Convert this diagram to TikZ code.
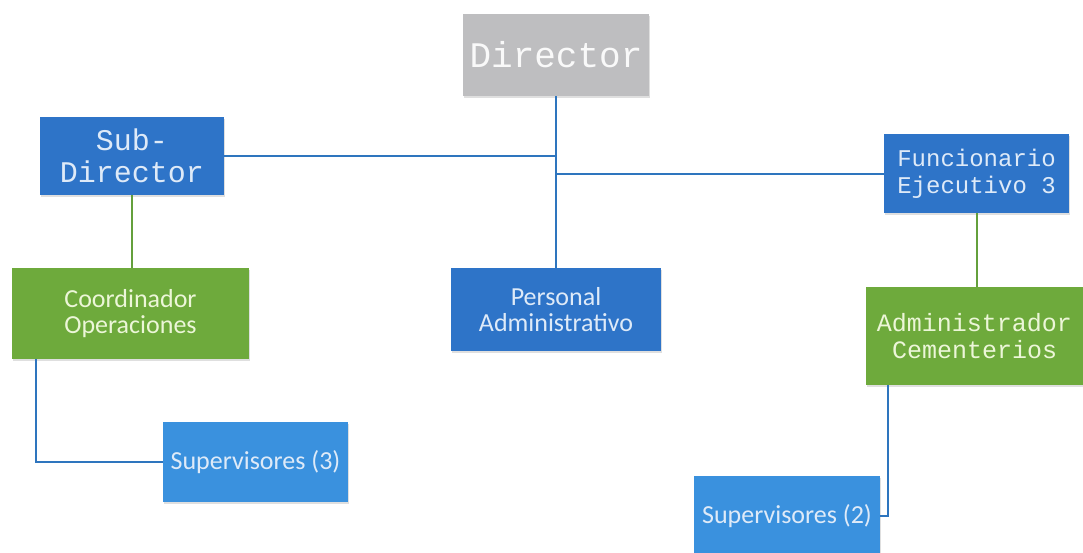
\documentclass[tikz,border=0pt]{standalone}
\usepackage{fontspec}
\setmonofont{Liberation Mono}
\newfontfamily\calib{Carlito}
\usetikzlibrary{positioning, shadows}
\definecolor{dirgray}{RGB}{190,190,192}
\definecolor{boxblue}{RGB}{46,116,200}
\definecolor{lightblue}{RGB}{58,145,222}
\definecolor{boxgreen}{RGB}{110,170,60}
\definecolor{lineblue}{RGB}{46,117,190}
\definecolor{linegreen}{RGB}{100,160,60}
\definecolor{txtblue}{RGB}{222,234,248}
\definecolor{txtgreen}{RGB}{236,246,216}

\tikzset{
    orgbox/.style={draw=none, align=center, inner sep=0pt, anchor=center,
        drop shadow={shadow xshift=1pt, shadow yshift=-2pt, opacity=0.25}},
    monotxt/.style={font=\ttfamily\fontsize{30}{32}\selectfont},
    smallmono/.style={font=\ttfamily\fontsize{24}{27}\selectfont},
    sanstxt/.style={font=\calib\fontsize{26}{26}\selectfont},
    blueline/.style={draw=lineblue, line width=2pt},
    greenline/.style={draw=linegreen, line width=2pt}
}

\begin{document}
\begin{tikzpicture}[x=1pt, y=-1pt]

    % Page frame
    \useasboundingbox (0,0) rectangle (1083,552);

    % Top level
    \node[orgbox, fill=dirgray, text=white!95!gray, minimum width=186pt, minimum height=82pt,
        font=\ttfamily\fontsize{36}{38}\selectfont] (director) at (556,55) {Director};

    % Second level
    \node[orgbox, monotxt, fill=boxblue, text=txtblue, minimum width=184pt, minimum height=78pt]
        (subdir) at (132,156) {Sub-\\Director};
    \node[orgbox, smallmono, fill=boxblue, text=txtblue, minimum width=185pt, minimum height=79pt]
        (funcejec) at (976.5,173.5) {Funcionario\\Ejecutivo 3};

    % Third level
    \node[orgbox, sanstxt, fill=boxgreen, text=txtgreen, minimum width=237pt, minimum height=91pt]
        (coordop) at (130.5,313.5) {Coordinador\\Operaciones};
    \node[orgbox, sanstxt, fill=boxblue, text=txtblue, minimum width=210pt, minimum height=83pt]
        (persadm) at (556,309.5) {Personal\\Administrativo};
    \node[orgbox, smallmono, fill=boxgreen, text=txtgreen, minimum width=217pt, minimum height=98pt,
        font=\ttfamily\fontsize{25}{27}\selectfont] (admcem) at (974.5,336) {Administrador\\Cementerios};

    % Supervisors
    \node[orgbox, sanstxt, fill=lightblue, text=txtblue, minimum width=185pt, minimum height=80pt]
        (sup3) at (255.5,462) {Supervisores (3)};
    \node[orgbox, sanstxt, fill=lightblue, text=txtblue, minimum width=186pt, minimum height=80pt]
        (sup2) at (787,516) {Supervisores (2)};

    % Connectors
    \draw[blueline] (director.south) -- (persadm.north);
    \draw[blueline] (subdir.east) -- (subdir.east -| director.south);
    \draw[blueline] (director.south |- funcejec.west) -- (funcejec.west);
    \draw[greenline] (subdir.south) -- (subdir.south |- coordop.north);
    \draw[greenline] (funcejec.south) -- (funcejec.south |- admcem.north);
    \draw[blueline] ([xshift=24pt]coordop.south west) |- (sup3.west);
    \draw[blueline] ([xshift=22pt]admcem.south west) |- (sup2.east);

\end{tikzpicture}
\end{document}
